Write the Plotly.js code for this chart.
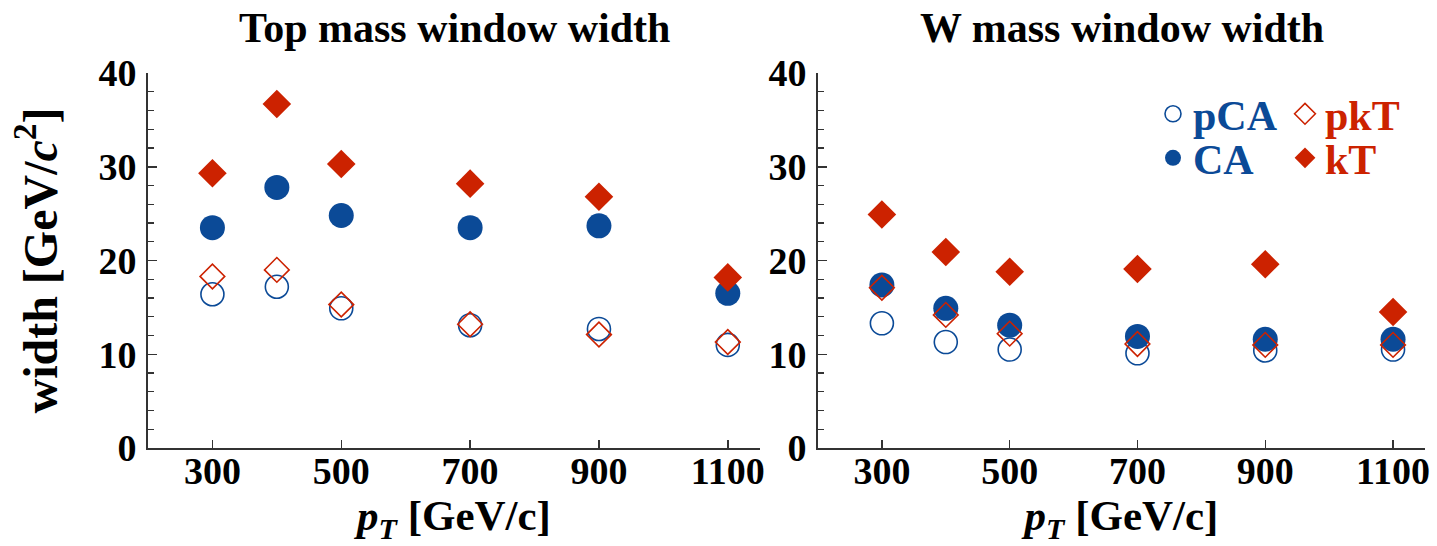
<!DOCTYPE html>
<html>
<head>
<meta charset="utf-8">
<script src="https://cdn.plot.ly/plotly-3.0.1.min.js"></script>
<style>html,body{margin:0;padding:0;background:#fff;}#chart{width:1437px;height:546px;}</style>
</head>
<body>
<div id="chart"></div>
<script>
// pT values (GeV/c)
const pT = [300, 400, 500, 700, 900, 1100];
const xTicks = [300, 500, 700, 900, 1100];
const yTicks = [0, 10, 20, 30, 40];

// Top mass window width [GeV/c^2]
const topPCA = [16.4, 17.2, 14.9, 13.1, 12.7, 11.0];
const topCA  = [23.5, 27.8, 24.8, 23.5, 23.7, 16.5];
const topPkT = [18.3, 19.0, 15.3, 13.2, 12.1, 11.3];
const topKT  = [29.3, 36.7, 30.3, 28.2, 26.8, 18.2];

// W mass window width [GeV/c^2]
const wPCA = [13.3, 11.3, 10.5, 10.1, 10.4, 10.5];
const wCA  = [17.4, 14.9, 13.1, 11.9, 11.6, 11.6];
const wPkT = [17.1, 14.2, 12.2, 11.1, 11.0, 11.0];
const wKT  = [24.9, 20.9, 18.8, 19.1, 19.6, 14.5];

const BLUE = '#0b4a97';
const RED = '#cc2200';
const FONT = 'Liberation Serif, Times New Roman, serif';

const styles = {
  pCA: {symbol: 'circle-open', size: 23, color: BLUE, line: {color: BLUE, width: 1.6}},
  CA:  {symbol: 'circle', size: 25, color: BLUE},
  pkT: {symbol: 'diamond-open', size: 19, color: RED, line: {color: RED, width: 1.6}},
  kT:  {symbol: 'diamond', size: 22, color: RED}
};
const legendOf = {pCA: 'legend', CA: 'legend2', pkT: 'legend3', kT: 'legend4'};
const colorOf = {pCA: BLUE, CA: BLUE, pkT: RED, kT: RED};

function tr(name, y, xa, ya, show) {
  return {
    type: 'scatter', mode: 'markers', x: pT, y: y, xaxis: xa, yaxis: ya,
    name: '<span style="color:' + colorOf[name] + '">' + name + '</span>',
    marker: styles[name], showlegend: show, legend: legendOf[name],
    hoverinfo: 'x+y'
  };
}

const data = [
  tr('pCA', topPCA, 'x', 'y', false),
  tr('CA', topCA, 'x', 'y', false),
  tr('pkT', topPkT, 'x', 'y', false),
  tr('kT', topKT, 'x', 'y', false),
  tr('pCA', wPCA, 'x2', 'y2', true),
  tr('CA', wCA, 'x2', 'y2', true),
  tr('pkT', wPkT, 'x2', 'y2', true),
  tr('kT', wKT, 'x2', 'y2', true)
];

const tickFont = {family: FONT, size: 38, color: '#000', weight: 'bold'};
function xAxis(domain, anchor) {
  return {
    domain: domain, anchor: anchor, range: [200, 1150],
    tickmode: 'array', tickvals: xTicks, ticktext: xTicks.map(String),
    ticks: 'inside', ticklen: 8, tickwidth: 1.5, tickcolor: '#333',
    showline: true, linecolor: '#333', linewidth: 2, mirror: false,
    showgrid: false, zeroline: false, tickfont: tickFont, ticklabelstandoff: -12,
    title: {text: '<i>p</i><sub><i>T</i></sub> [GeV/c]', font: {family: FONT, size: 43, color: '#000', weight: 'bold'}, standoff: 18}
  };
}
function yAxis(anchor, withTitle) {
  const a = {
    anchor: anchor, range: [0, 40], domain: [0, 1],
    tickmode: 'array', tickvals: yTicks, ticktext: yTicks.map(String),
    ticks: 'inside', ticklen: 9, tickwidth: 1.5, tickcolor: '#333',
    minor: {dtick: 2, ticks: 'inside', ticklen: 6, tickwidth: 1.2, tickcolor: '#333', showgrid: false},
    showline: true, linecolor: '#333', linewidth: 2, mirror: false,
    showgrid: false, zeroline: false, tickfont: tickFont, ticklabelstandoff: 2
  };
  if (withTitle) {
    a.title = {text: 'width [GeV/<i>c</i><sup>2</sup>]', font: {family: FONT, size: 48, color: '#000', weight: 'bold'}, standoff: 26};
  }
  return a;
}

const plotL = 148, plotW = 1277;
const dom1 = [0, (760 - plotL) / plotW];
const dom2 = [(818 - plotL) / plotW, 1];

function legendAt(px, py) {
  return {
    x: (px - plotL) / plotW, y: (448 - py) / 375, xanchor: 'left', yanchor: 'middle',
    bgcolor: 'rgba(0,0,0,0)', borderwidth: 0, itemsizing: 'trace',
    font: {family: FONT, size: 42, weight: 'bold'}
  };
}

const layout = {
  width: 1437, height: 546,
  margin: {l: plotL, r: 12, t: 73, b: 98},
  paper_bgcolor: '#fff', plot_bgcolor: '#fff',
  xaxis: xAxis(dom1, 'y'),
  yaxis: yAxis('x', true),
  xaxis2: xAxis(dom2, 'y2'),
  yaxis2: yAxis('x2', false),
  legend: legendAt(1153, 114),
  legend2: legendAt(1153, 158),
  legend3: legendAt(1285, 114),
  legend4: legendAt(1285, 158),
  annotations: [
    {text: 'Top mass window width', xref: 'paper', yref: 'paper', x: (dom1[0] + dom1[1]) / 2, y: 1, yshift: 45, xanchor: 'center', yanchor: 'middle', showarrow: false,
     font: {family: FONT, size: 42, color: '#000', weight: 'bold'}},
    {text: 'W mass window width', xref: 'paper', yref: 'paper', x: (dom2[0] + dom2[1]) / 2, y: 1, yshift: 45, xanchor: 'center', yanchor: 'middle', showarrow: false,
     font: {family: FONT, size: 42, color: '#000', weight: 'bold'}}
  ]
};

Plotly.newPlot('chart', data, layout, {displayModeBar: false, staticPlot: true});
</script>
</body>
</html>
